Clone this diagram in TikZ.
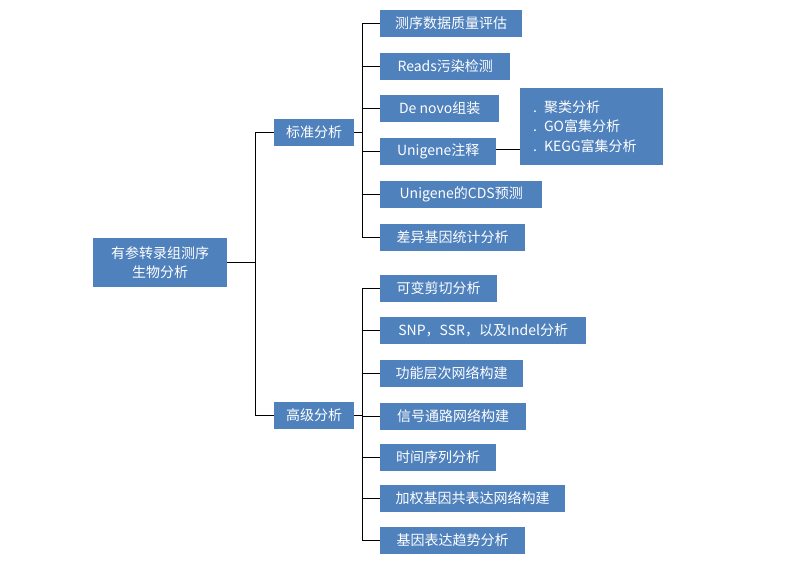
\documentclass[tikz,border=0pt]{standalone}
\usepackage{fontspec}
\setmainfont{Noto Sans CJK SC}
\definecolor{boxblue}{HTML}{4F81BD}
\begin{document}
\begin{tikzpicture}[x=1pt,y=-1pt,
  box/.style={fill=boxblue,text=white,inner sep=0pt,minimum height=27pt,anchor=west,
    font=\fontsize{14pt}{19.5pt}\selectfont,align=center},
  conn/.style={draw=black,line width=0.9pt}]
\useasboundingbox (0,0) rectangle (810,566);
\node[box,minimum width=134pt,minimum height=49pt] (root) at (93,262.5) {有参转录组测序\\生物分析};
\node[box,minimum width=80pt] (std) at (274,132) {标准分析};
\node[box,minimum width=80pt] (adv) at (274,415.5) {高级分析};
% standard children
\node[box,minimum width=142pt] (s1) at (380,23.5) {测序数据质量评估};
\node[box,minimum width=130pt] (s2) at (380,66.5) {Reads污染检测};
\node[box,minimum width=119pt] (s3) at (380,108.5) {De novo组装};
\node[box,minimum width=116pt] (s4) at (380,151.5) {Unigene注释};
\node[box,minimum width=162pt] (s5) at (380,194.5) {Unigene的CDS预测};
\node[box,minimum width=145pt] (s6) at (380,237.5) {差异基因统计分析};
\node[box,minimum width=143pt,minimum height=77pt,align=left,text width=117pt] (info) at (520,126.5) {. 聚类分析\\. GO富集分析\\. KEGG富集分析};
% advanced children
\node[box,minimum width=117pt] (a1) at (380,288.5) {可变剪切分析};
\node[box,minimum width=206pt] (a2) at (380,330.5) {SNP，SSR，以及Indel分析};
\node[box,minimum width=143pt] (a3) at (380,373.5) {功能层次网络构建};
\node[box,minimum width=146pt] (a4) at (380,416.5) {信号通路网络构建};
\node[box,minimum width=116pt] (a5) at (380,457.5) {时间序列分析};
\node[box,minimum width=185pt] (a6) at (380,498.5) {加权基因共表达网络构建};
\node[box,minimum width=145pt] (a7) at (380,540) {基因表达趋势分析};
% connectors
\draw[conn] (root.east) -- ++(28,0) |- (std.west);
\draw[conn] (root.east) -- ++(28,0) |- (adv.west);
\foreach \n in {s1,s2,s3,s4,s5,s6}
  \draw[conn] (std.east) -- ++(8,0) |- (\n.west);
\foreach \n in {a1,a2,a3,a4,a5,a6,a7}
  \draw[conn] (adv.east) -- ++(8,0) |- (\n.west);
\draw[conn] ([yshift=2.5pt]s4.east) -- ([yshift=2.5pt]s4.east -| info.west);
\end{tikzpicture}
\end{document}
